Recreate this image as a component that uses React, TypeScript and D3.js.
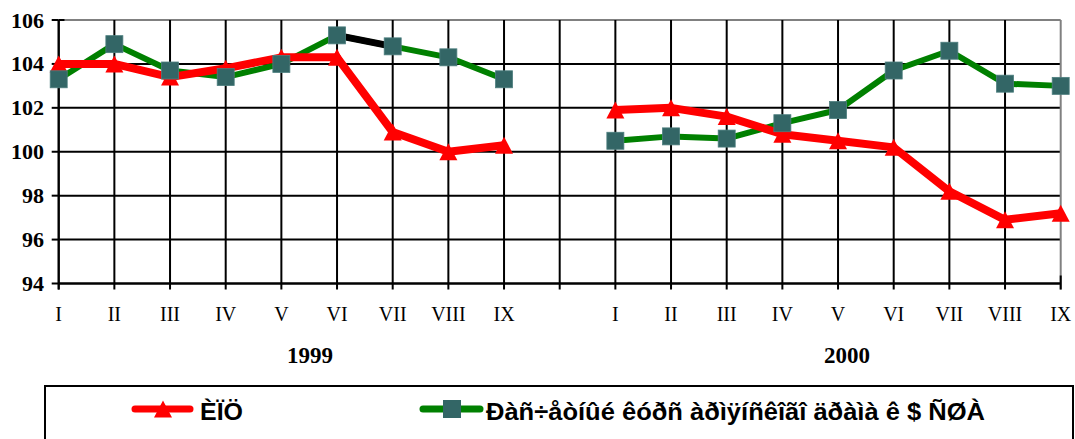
import React from "react";
import * as d3 from "d3";

const months = ["I", "II", "III", "IV", "V", "VI", "VII", "VIII", "IX"];
const years = ["1999", "2000"];
const cpi1999 = [104.0, 104.0, 103.4, 103.8, 104.3, 104.3, 100.9, 100.0, 100.3];
const cpi2000 = [101.9, 102.0, 101.6, 100.8, 100.5, 100.2, 98.2, 96.9, 97.2];
const fx1999 = [103.3, 104.9, 103.7, 103.4, 104.0, 105.3, 104.8, 104.3, 103.3];
const fx2000 = [100.5, 100.7, 100.6, 101.3, 101.9, 103.7, 104.6, 103.1, 103.0];
const yTicks = [94, 96, 98, 100, 102, 104, 106];
const legendLabels = ["ÈÏÖ", "Ðàñ÷åòíûé êóðñ àðìÿíñêîãî äðàìà ê $ ÑØÀ"];

const W = 1075;
const H = 439;
const L = 58.7;
const R = 1060.7;
const T = 20;
const B = 283.5;

const TRI = "M0,-8.5L9,8.5L-9,8.5Z";

export default function App() {
  // 19 slots: 9 months of 1999, gap, 9 months of 2000
  const slots = d3.range(19);
  const x = d3.scaleLinear().domain([0, 18]).range([L, R]);
  const y = d3.scaleLinear().domain([94, 106]).range([B, T]);
  const idx1999 = d3.range(9);
  const idx2000 = d3.range(10, 19);
  const line = d3
    .line<[number, number]>()
    .x((d) => x(d[0]))
    .y((d) => y(d[1]));
  const seg = (idx: number[], vals: number[]) =>
    idx.map((i, k) => [i, vals[k]] as [number, number]);
  const redSegs = [seg(idx1999, cpi1999), seg(idx2000, cpi2000)];
  const greenSegs = [seg(idx1999, fx1999), seg(idx2000, fx2000)];
  const labelFor = (i: number) =>
    i < 9 ? months[i] : i === 9 ? "" : months[i - 10];
  const serif = "'Liberation Serif', 'Times New Roman', serif";
  const sans = "'Liberation Sans', Arial, sans-serif";

  return (
    <svg
      width={W}
      height={H}
      style={{ position: "absolute", left: 0, top: 0, background: "#fff" }}
    >
      {/* horizontal grid */}
      {yTicks.map((t) => (
        <line
          key={"h" + t}
          x1={t === 106 ? L + 6 : L}
          x2={R}
          y1={y(t)}
          y2={y(t)}
          stroke={t === 106 ? "#808080" : "#000"}
          strokeWidth={2}
        />
      ))}
      {/* vertical grid */}
      {slots.map((i) => (
        <line
          key={"v" + i}
          x1={x(i)}
          x2={x(i)}
          y1={T}
          y2={B + 6}
          stroke={i === 18 ? "#808080" : "#000"}
          strokeWidth={2}
        />
      ))}
      <line x1={R} x2={R} y1={B - 8} y2={B + 6} stroke="#000" strokeWidth={2} />
      <line x1={L} x2={L} y1={T} y2={B + 6} stroke="#000" strokeWidth={2} />
      <line x1={L} x2={L + 6} y1={T} y2={T} stroke="#000" strokeWidth={2} />
      <line x1={L} x2={R} y1={B} y2={B} stroke="#000" strokeWidth={2} />
      {/* y ticks */}
      {yTicks.map((t) => (
        <g key={"yt" + t}>
          <line x1={L - 7} x2={L} y1={y(t)} y2={y(t)} stroke="#000" strokeWidth={2} />
          <text
            x={44}
            y={y(t)}
            textAnchor="end"
            dominantBaseline="central"
            fontFamily={serif}
            fontWeight="bold"
            fontSize={22}
          >
            {t}
          </text>
        </g>
      ))}
      {/* x labels */}
      {slots.map((i) => (
        <text
          key={"xl" + i}
          x={x(i)}
          y={314}
          textAnchor="middle"
          dominantBaseline="central"
          fontFamily={serif}
          fontSize={20}
        >
          {labelFor(i)}
        </text>
      ))}
      <text x={310} y={355} textAnchor="middle" dominantBaseline="central" fontFamily={serif} fontWeight="bold" fontSize={23}>
        {years[0]}
      </text>
      <text x={847} y={355} textAnchor="middle" dominantBaseline="central" fontFamily={serif} fontWeight="bold" fontSize={23}>
        {years[1]}
      </text>

      {/* green series */}
      {greenSegs.map((s, k) => (
        <path key={"g" + k} d={line(s) || ""} fill="none" stroke="#008000" strokeWidth={6} strokeLinejoin="round" />
      ))}
      {/* highlighted segment VI-VII 1999 */}
      <path
        d={line([greenSegs[0][5], greenSegs[0][6]]) || ""}
        fill="none"
        stroke="#000"
        strokeWidth={7}
      />
      {/* red series */}
      {redSegs.map((s, k) => (
        <path key={"r" + k} d={line(s) || ""} fill="none" stroke="#FF0000" strokeWidth={8} strokeLinejoin="round" />
      ))}
      {redSegs.flat().map((d, k) => (
        <path key={"rt" + k} d={TRI} transform={`translate(${x(d[0])},${y(d[1])})`} fill="#FF0000" />
      ))}
      {greenSegs.flat().map((d, k) => (
        <rect
          key={"gs" + k}
          x={x(d[0]) - 8.5}
          y={y(d[1]) - 8.5}
          width={17}
          height={17}
          fill="#336666"
          stroke="#4d7f7f"
          strokeWidth={0.8}
        />
      ))}

      {/* legend */}
      <rect x={45} y={386} width={1028} height={70} fill="#fff" stroke="#000" strokeWidth={2} />
      <line x1={135} x2={190} y1={409} y2={409} stroke="#FF0000" strokeWidth={7} strokeLinecap="round" />
      <path d={TRI} transform="translate(163,409)" fill="#FF0000" />
      <text x={200} y={411} dominantBaseline="central" fontFamily={sans} fontWeight="bold" fontSize={24} textLength={43} lengthAdjust="spacingAndGlyphs">
        {legendLabels[0]}
      </text>
      <line x1={423} x2={480} y1={409} y2={409} stroke="#008000" strokeWidth={7} strokeLinecap="round" />
      <rect x={443} y={400} width={18} height={18} fill="#336666" />
      <text x={486} y={411} dominantBaseline="central" fontFamily={sans} fontWeight="bold" fontSize={24} textLength={499} lengthAdjust="spacingAndGlyphs">
        {legendLabels[1]}
      </text>
    </svg>
  );
}
